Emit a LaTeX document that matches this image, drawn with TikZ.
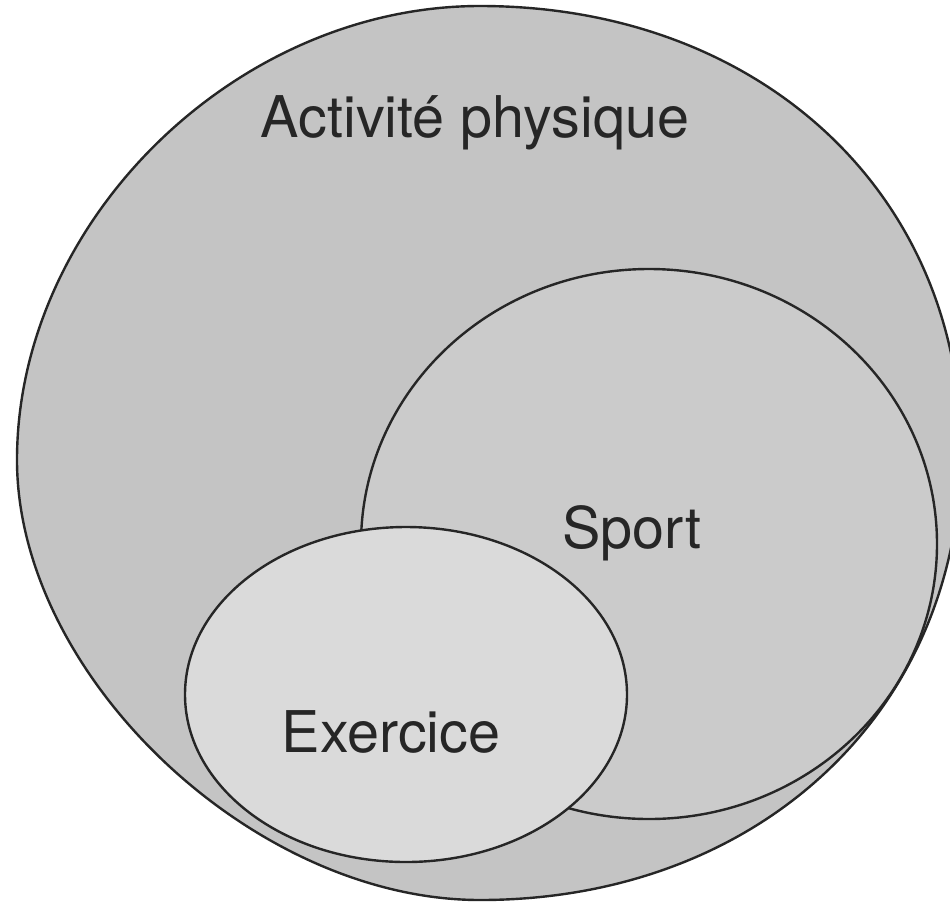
\documentclass[tikz,border=0pt]{standalone}
\usepackage{fontspec}
\setmainfont{TeX Gyre Heros}
\definecolor{outerg}{gray}{0.77}
\definecolor{sportg}{gray}{0.795}
\definecolor{exg}{gray}{0.855}
\tikzset{
  setshape/.style={draw=black!85, line width=2.4pt},
  lbl/.style={font=\fontsize{57.5}{60}\selectfont, text=black!85, anchor=base, inner sep=0pt}
}
\begin{document}
\begin{tikzpicture}[x=1pt,y=-1pt]
\useasboundingbox (0,0) rectangle (950,903);
\fill[white] (0,0) rectangle (950,903);
\coordinate (L) at (17,460);
\coordinate (B) at (480,900);
\coordinate (R) at (961,450);
\coordinate (T) at (480,6);
\draw[setshape, fill=outerg]
  (L) .. controls (17,675.6) and (253.1,900) .. (B)
      .. controls (759,900) and (961,711) .. (R)
      .. controls (961,192.5) and (759,6) .. (T)
      .. controls (236,6) and (17,220.7) .. (L) -- cycle;
\draw[setshape, fill=sportg] (649,544) ellipse [x radius=288, y radius=275];
\draw[setshape, fill=exg] (406,694.5) ellipse [x radius=221, y radius=167.5];
\node[lbl] (act) at (475,137) {Activité physique};
\node[lbl] (sport) at (632,548) {Sport};
\node[lbl] (ex) at (391,752) {Exercice};
\end{tikzpicture}
\end{document}
